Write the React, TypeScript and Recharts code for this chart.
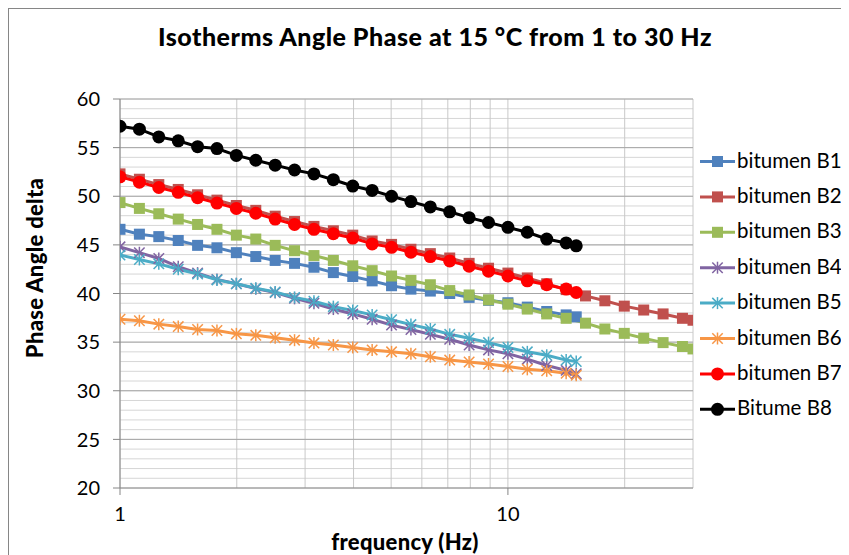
import { LineChart, Line, XAxis, YAxis, CartesianGrid, ReferenceLine } from "recharts";

// frequencies (Hz)
const freqShort = [
  1, 1.122, 1.259, 1.413, 1.585, 1.778, 1.995, 2.239, 2.512, 2.818, 3.162, 3.548,
  3.981, 4.467, 5.012, 5.623, 6.31, 7.079, 7.943, 8.913, 10, 11.22, 12.59, 14.13, 15,
];
const freqLong = [
  1, 1.122, 1.259, 1.413, 1.585, 1.778, 1.995, 2.239, 2.512, 2.818, 3.162, 3.548,
  3.981, 4.467, 5.012, 5.623, 6.31, 7.079, 7.943, 8.913, 10, 11.22, 12.59, 14.13,
  15.85, 17.78, 19.95, 22.39, 25.12, 28.18, 30,
];

const b1 = [46.6, 46.1, 45.85, 45.45, 44.95, 44.7, 44.2, 43.8, 43.4, 43.1, 42.7, 42.15, 41.75, 41.3, 40.8, 40.45, 40.25, 40.0, 39.6, 39.3, 39.05, 38.6, 38.15, 37.8, 37.6];
const b2 = [52.3, 51.75, 51.2, 50.7, 50.15, 49.6, 49.05, 48.55, 47.95, 47.4, 46.9, 46.45, 46.0, 45.4, 45.05, 44.55, 44.1, 43.65, 43.1, 42.6, 42.1, 41.6, 41.0, 40.4, 39.75, 39.25, 38.7, 38.3, 37.9, 37.45, 37.25];
const b3 = [49.35, 48.75, 48.2, 47.65, 47.1, 46.6, 46.0, 45.6, 44.95, 44.4, 43.9, 43.4, 42.85, 42.35, 41.8, 41.35, 40.9, 40.3, 39.85, 39.35, 38.9, 38.4, 37.9, 37.45, 36.95, 36.35, 35.9, 35.4, 34.95, 34.55, 34.3];
const b4 = [44.8, 44.2, 43.6, 42.75, 42.1, 41.45, 41.0, 40.5, 40.1, 39.5, 39.0, 38.4, 37.9, 37.35, 36.75, 36.3, 35.8, 35.3, 34.7, 34.2, 33.8, 33.25, 32.6, 32.1, 31.75];
const b5 = [43.95, 43.5, 43.05, 42.5, 42.0, 41.4, 41.0, 40.55, 40.15, 39.6, 39.2, 38.65, 38.25, 37.8, 37.3, 36.8, 36.35, 35.8, 35.4, 34.95, 34.45, 34.0, 33.65, 33.15, 33.0];
const b6 = [37.35, 37.2, 36.85, 36.6, 36.3, 36.2, 35.85, 35.7, 35.45, 35.2, 34.9, 34.7, 34.45, 34.2, 34.0, 33.8, 33.5, 33.15, 32.95, 32.75, 32.5, 32.2, 32.05, 31.8, 31.6];
const b7 = [52.0, 51.45, 50.9, 50.4, 49.85, 49.3, 48.75, 48.25, 47.65, 47.1, 46.6, 46.15, 45.7, 45.1, 44.75, 44.25, 43.8, 43.35, 42.8, 42.3, 41.8, 41.3, 40.9, 40.45, 40.1];
const b8 = [57.2, 56.9, 56.1, 55.7, 55.1, 54.9, 54.2, 53.7, 53.2, 52.7, 52.3, 51.7, 51.05, 50.6, 50.0, 49.45, 48.9, 48.4, 47.8, 47.3, 46.8, 46.3, 45.6, 45.2, 44.9];

const xTicks = [1, 2, 3, 4, 5, 6, 7, 8, 9, 10, 20, 30];
const xLabelled = [1, 10];
const yTicks = [
  20, 21, 22, 23, 24, 25, 26, 27, 28, 29, 30, 31, 32, 33, 34, 35, 36, 37, 38, 39, 40,
  41, 42, 43, 44, 45, 46, 47, 48, 49, 50, 51, 52, 53, 54, 55, 56, 57, 58, 59, 60,
];
const yMajor = [25, 30, 35, 40, 45, 50, 55, 60];

type Shape = "square" | "star" | "circle";

const series: { name: string; freq: number[]; values: number[]; color: string; shape: Shape }[] = [
  { name: "bitumen B1", freq: freqShort, values: b1, color: "#4F81BD", shape: "square" },
  { name: "bitumen B2", freq: freqLong, values: b2, color: "#C0504D", shape: "square" },
  { name: "bitumen B3", freq: freqLong, values: b3, color: "#9BBB59", shape: "square" },
  { name: "bitumen B4", freq: freqShort, values: b4, color: "#8064A2", shape: "star" },
  { name: "bitumen B5", freq: freqShort, values: b5, color: "#4BACC6", shape: "star" },
  { name: "bitumen B6", freq: freqShort, values: b6, color: "#F79646", shape: "star" },
  { name: "bitumen B7", freq: freqShort, values: b7, color: "#FF0000", shape: "circle" },
  { name: "Bitume B8", freq: freqShort, values: b8, color: "#000000", shape: "circle" },
];

const FONT = "Lato, 'Open Sans', sans-serif";

function Marker({ cx, cy, shape, color }: { cx: number; cy: number; shape: Shape; color: string }) {
  if (shape === "square") {
    return <rect x={cx - 5.5} y={cy - 5.5} width={11} height={11} fill={color} />;
  }
  if (shape === "circle") {
    return <circle cx={cx} cy={cy} r={6.5} fill={color} />;
  }
  const r = 6;
  const d = r * 0.87;
  return (
    <g stroke={color} strokeWidth={1.5}>
      <line x1={cx} y1={cy - r} x2={cx} y2={cy + r} />
      <line x1={cx - d} y1={cy - d} x2={cx + d} y2={cy + d} />
      <line x1={cx - d} y1={cy + d} x2={cx + d} y2={cy - d} />
    </g>
  );
}

function XTick(props: any) {
  const { x, y, payload } = props;
  if (!xLabelled.includes(payload.value)) return <g />;
  return (
    <g>
      <line x1={x} y1={y - 7} x2={x} y2={y} stroke="#868686" />
      <text x={x} y={y + 26} textAnchor="middle" fontSize={20} fontFamily={FONT} fill="#000">
        {payload.value}
      </text>
    </g>
  );
}

function YTick(props: any) {
  const { x, y, payload } = props;
  if (payload.value % 5 !== 0) return <g />;
  return (
    <g>
      <line x1={x} y1={y} x2={x + 7} y2={y} stroke="#868686" />
      <text x={x - 13} y={y} dy="0.36em" textAnchor="end" fontSize={20} fontFamily={FONT} fill="#000">
        {payload.value}
      </text>
    </g>
  );
}

function Legend() {
  return (
    <svg width={840} height={546} style={{ position: "absolute", left: 0, top: 0, pointerEvents: "none" }}>
      {series.map((s, i) => {
        const cy = 152.5 + i * 35.4;
        return (
          <g key={s.name}>
            <line x1={691} y1={cy} x2={726} y2={cy} stroke={s.color} strokeWidth={3} />
            <Marker cx={708.5} cy={cy} shape={s.shape} color={s.color} />
            <text x={728} y={cy + 6} fontSize={20.5} fontFamily={FONT} fill="#000">
              {s.name}
            </text>
          </g>
        );
      })}
    </svg>
  );
}

export default function App() {
  return (
    <div
      style={{
        position: "relative",
        width: 841,
        height: 547,
        borderLeft: "1px solid #868686",
        borderTop: "1px solid #868686",
        boxSizing: "border-box",
        background: "#fff",
        overflow: "hidden",
        fontFamily: FONT,
      }}
    >
      <div
        style={{
          position: "absolute",
          left: 0,
          top: 12,
          width: 852,
          textAlign: "center",
          fontSize: 25,
          fontWeight: 900,
          letterSpacing: 0.5,
          lineHeight: 1.2,
          color: "#000",
          whiteSpace: "nowrap",
        }}
      >
        Isotherms Angle Phase at 15 °C from 1 to 30 Hz
      </div>
      <LineChart width={840} height={546} margin={{ top: 90, right: 156, bottom: 37, left: 51 }}>
        <CartesianGrid vertical={false} stroke="#d6d6d6" yAxisId="y" />
        <CartesianGrid horizontal={false} stroke="#c8c8c8" yAxisId="y" />
        {yMajor.map((v) => (
          <ReferenceLine key={v} y={v} yAxisId="y" stroke="#a6a6a6" />
        ))}
        <XAxis
          type="number"
          dataKey="f"
          scale="log"
          domain={[1, 30]}
          ticks={xTicks}
          interval={0}
          allowDataOverflow
          height={30}
          tickSize={7}
          tickMargin={0}
          tickLine={false}
          tick={<XTick />}
          stroke="#868686"
        />
        <YAxis
          yAxisId="y"
          type="number"
          domain={[20, 60]}
          ticks={yTicks}
          interval={0}
          width={60}
          tickSize={7}
          tickMargin={0}
          tickLine={false}
          tick={<YTick />}
          stroke="#868686"
        />
        {series.map((s) => (
          <Line
            key={s.name}
            yAxisId="y"
            data={s.freq.map((f, i) => ({ f, v: s.values[i] }))}
            dataKey="v"
            name={s.name}
            stroke={s.color}
            strokeWidth={3}
            isAnimationActive={false}
            dot={(p: any) => (
              <Marker key={`${s.name}-${p.index}`} cx={p.cx} cy={p.cy} shape={s.shape} color={s.color} />
            )}
            activeDot={false}
          />
        ))}
      </LineChart>
      <Legend />
      <div
        style={{
          position: "absolute",
          left: 26 - 120,
          top: 259 - 14,
          width: 240,
          textAlign: "center",
          fontSize: 22,
          fontWeight: 900,
          letterSpacing: 0.3,
          lineHeight: "28px",
          transform: "rotate(-90deg)",
          whiteSpace: "nowrap",
        }}
      >
        Phase Angle delta
      </div>
      <div
        style={{
          position: "absolute",
          left: 396 - 120,
          top: 533 - 14,
          width: 240,
          textAlign: "center",
          fontSize: 22,
          fontWeight: 900,
          letterSpacing: 0.3,
          lineHeight: "28px",
          whiteSpace: "nowrap",
        }}
      >
        frequency (Hz)
      </div>
    </div>
  );
}
